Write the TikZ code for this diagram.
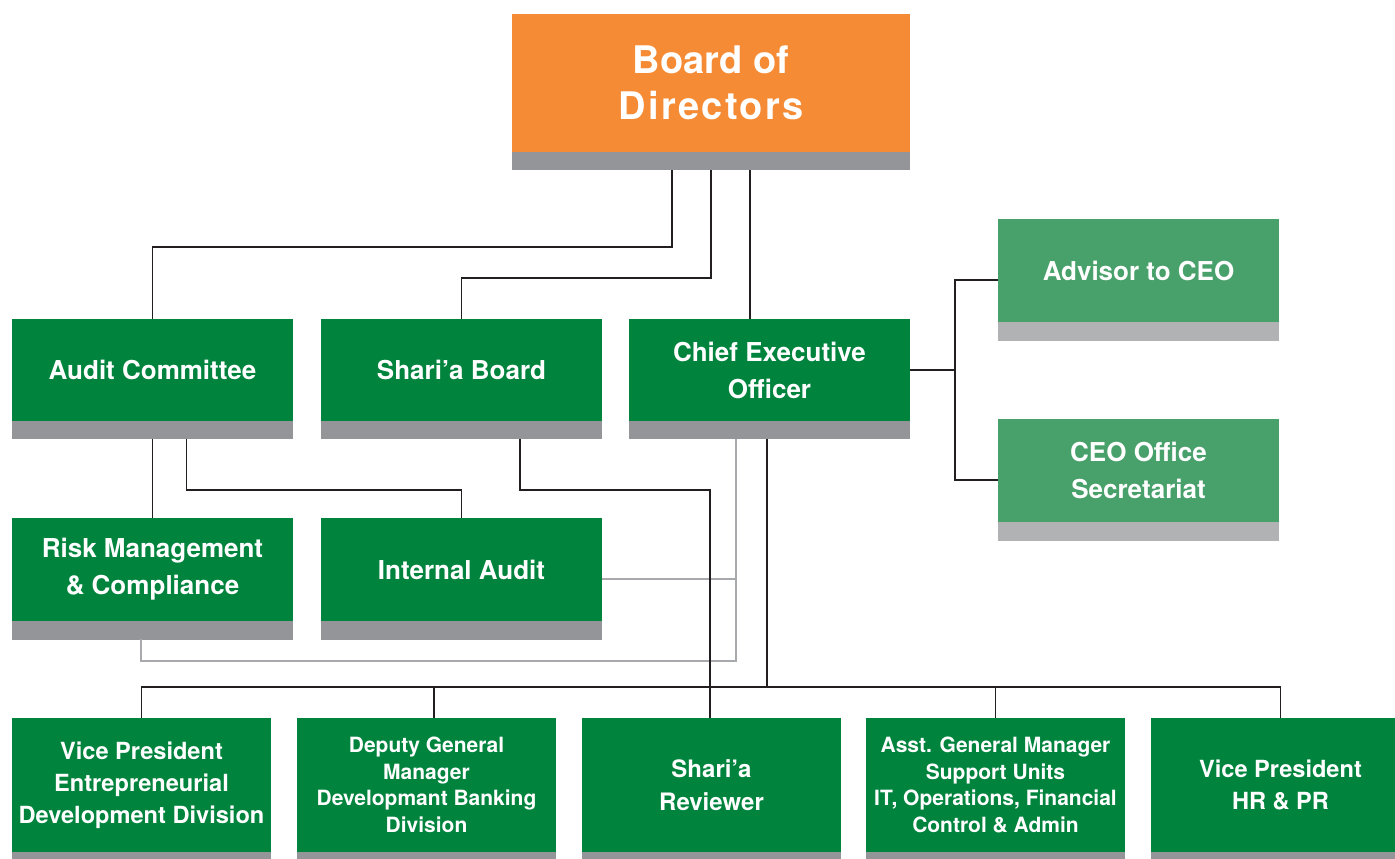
\documentclass[tikz,border=0pt]{standalone}
\usepackage{fontspec}
\setmainfont{TeX Gyre Heros}
\usetikzlibrary{calc}

\definecolor{boardorange}{RGB}{245,139,53}
\definecolor{deptgreen}{RGB}{0,132,61}
\definecolor{staffgreen}{RGB}{72,160,106}
\definecolor{bargray}{RGB}{148,149,153}
\definecolor{barlight}{RGB}{177,178,180}
\definecolor{linkdark}{RGB}{35,31,32}
\definecolor{linklight}{RGB}{167,169,172}

% grey strip under a box: node name, strip height, colour
\newcommand\orgbar[3]{\fill[#3] (#1.south west) rectangle ([yshift=-#2]#1.south east);}

\begin{document}
\begin{tikzpicture}[x=1pt,y=-1pt,
  unit/.style={anchor=north west, fill=deptgreen, text=white, align=center,
    inner sep=0pt, outer sep=0pt, minimum width=281pt, minimum height=102pt,
    font=\fontsize{26}{37}\selectfont\bfseries},
  staff/.style={unit, fill=staffgreen, minimum height=103pt},
  division/.style={unit, minimum width=259pt, minimum height=134pt,
    font=\fontsize{23.6}{32}\selectfont\bfseries},
  smalldiv/.style={division, font=\fontsize{21}{26.5}\selectfont\bfseries},
  link/.style={draw=linkdark, line width=1.2pt},
  dotted link/.style={draw=linklight, line width=1.2pt}
]
\clip (0,0) rectangle (1395,859);
\fill[white] (0,0) rectangle (1395,859);

% board
\node[unit, fill=boardorange, minimum width=398pt, minimum height=138pt,
  font=\fontsize{38}{46}\selectfont\bfseries] (bod) at (512,14)
  {Board of\\{\addfontfeature{LetterSpace=6}Directors}};
\orgbar{bod}{18pt}{bargray}

% committees and CEO
\node[unit] (ac)  at (12,319)  {Audit Committee};
\node[unit] (sb)  at (321,319) {Shari’a Board};
\node[unit] (ceo) at (629,319) {Chief Executive\\Officer};
\orgbar{ac}{18pt}{bargray}
\orgbar{sb}{18pt}{bargray}
\orgbar{ceo}{18pt}{bargray}

% CEO staff
\node[staff] (adv) at (998,219) {Advisor to CEO};
\node[staff] (cos) at (998,419) {CEO Office\\Secretariat};
\orgbar{adv}{19pt}{barlight}
\orgbar{cos}{19pt}{barlight}

% control functions
\node[unit, minimum height=103pt] (rm) at (12,518)  {Risk Management\\\& Compliance};
\node[unit, minimum height=103pt] (ia) at (321,518) {Internal Audit};
\orgbar{rm}{19pt}{bargray}
\orgbar{ia}{19pt}{bargray}

% divisions
\node[division] (vp1) at (12,718)   {Vice President\\Entrepreneurial\\Development Division};
\node[smalldiv] (dgm) at (297,718)  {Deputy General\\Manager\\Developmant Banking\\Division};
\node[division, font=\fontsize{24}{33}\selectfont\bfseries] (sr) at (582,718) {Shari’a\\Reviewer};
\node[smalldiv] (agm) at (866,718)  {Asst. General Manager\\Support Units\\IT, Operations, Financial\\Control \& Admin};
\node[division] (hr)  at (1151,718) {Vice President\\HR \& PR};
\foreach \n in {vp1,dgm,sr,agm,hr} {\orgbar{\n}{18pt}{bargray}}

% light reporting lines
\coordinate (ceog) at ([xshift=-33.5pt,yshift=-18pt]ceo.south);
\coordinate (iaside) at ([yshift=-9.5pt]ia.east);
\draw[dotted link] (ceog) -- ++(0,222) -| ([xshift=-11.5pt,yshift=-18pt]rm.south);
\draw[dotted link] (iaside) -- (iaside -| ceog);

% board to committees and CEO
\coordinate (bodb) at ([yshift=-18pt]bod.south);
\draw[link] ([xshift=-39pt]bodb) -- ++(0,77) -| (ac.north);
\draw[link] (bodb) -- ++(0,108) -| (sb.north);
\draw[link] ([xshift=39pt]bodb) -- ([xshift=39pt]bodb |- ceo.north);

% CEO staff fork
\draw[link] (ceo.east) -- ++(45,0) coordinate (fork);
\draw[link] ([yshift=-9.5pt]adv.west) -| (fork) |- ([yshift=-9.5pt]cos.west);

% audit committee and Shari'a board downwards
\draw[link] ([yshift=-18pt]ac.south) -- (rm.north);
\draw[link] ([xshift=34pt,yshift=-18pt]ac.south) -- ++(0,51) -| (ia.north);
\draw[link] ([xshift=58.5pt,yshift=-18pt]sb.south) -- ++(0,51) -| ([xshift=-1.5pt]sr.north);

% CEO to divisions
\draw[link] ([xshift=-2.5pt,yshift=-18pt]ceo.south) -- ++(0,248) coordinate (bus);
\draw[link] (vp1.north) -- ++(0,-31) -| (hr.north);
\draw[link] ([xshift=7.5pt]dgm.north) -- ++(0,-31);
\draw[link] (agm.north) -- ++(0,-31);
\end{tikzpicture}
\end{document}
